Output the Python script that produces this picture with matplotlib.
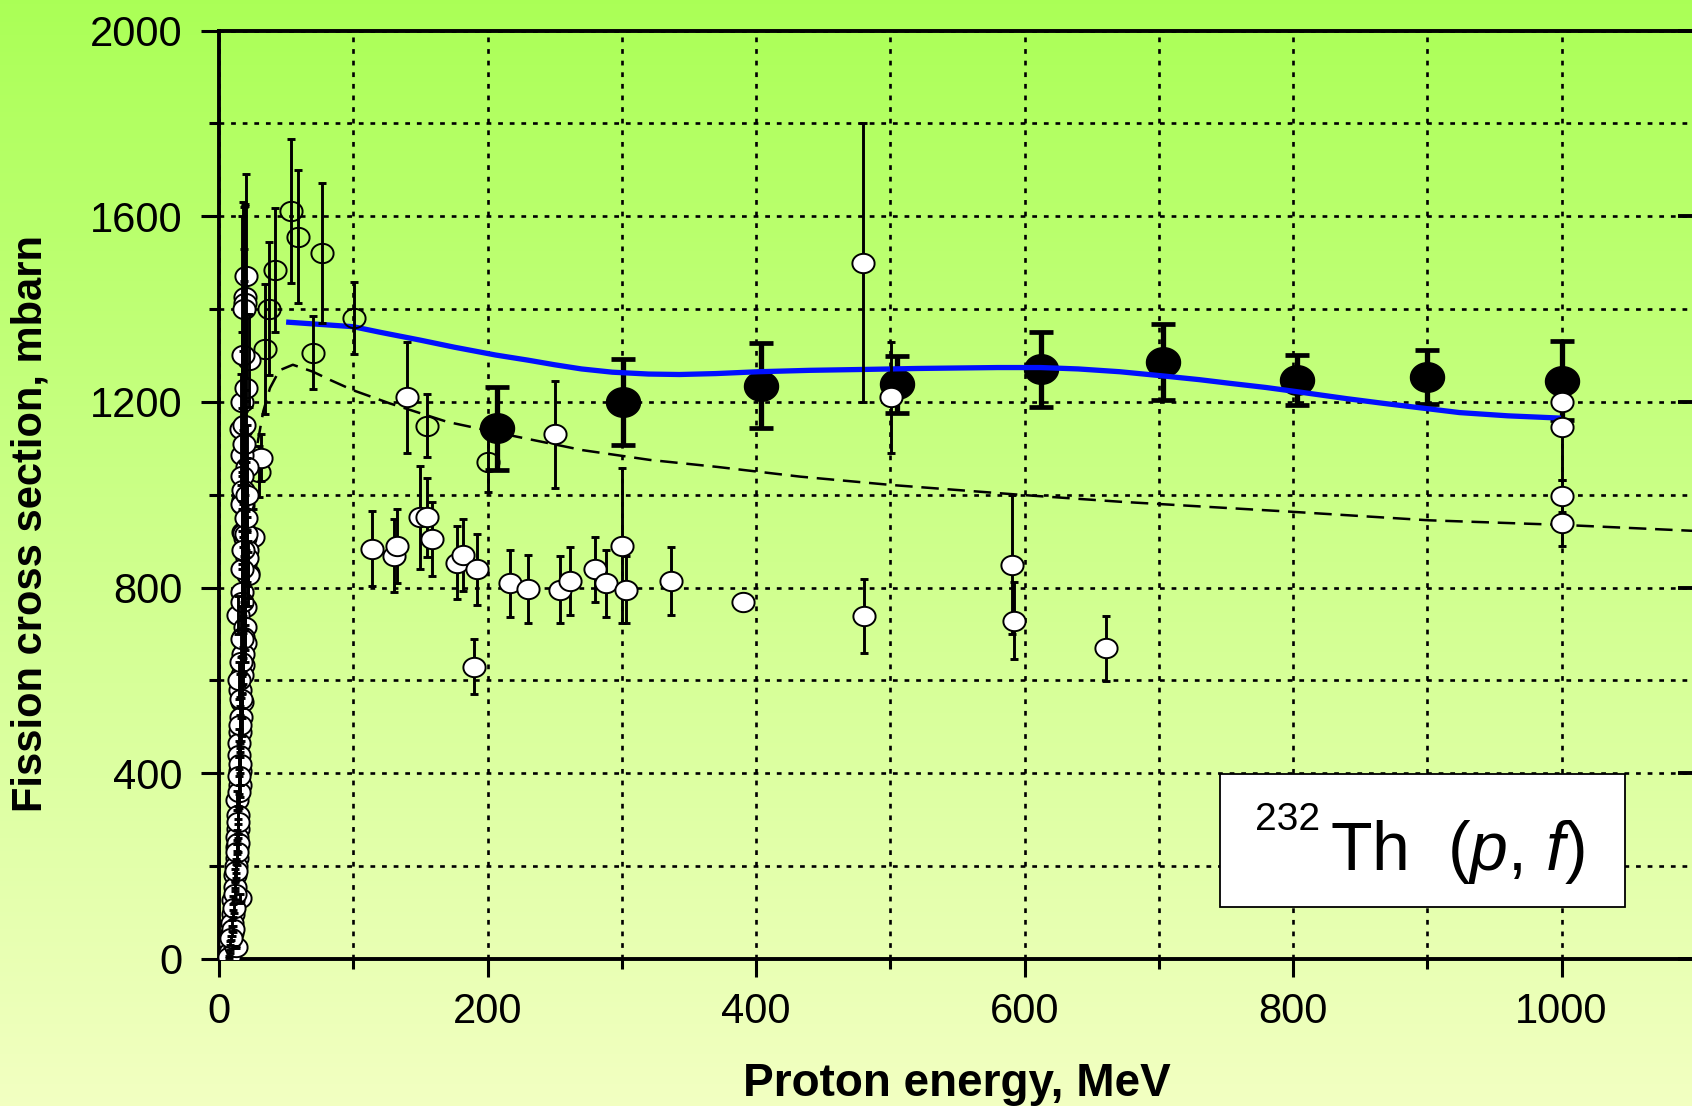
import numpy as np
import matplotlib
matplotlib.use("Agg")
import matplotlib.pyplot as plt
from matplotlib.path import Path
from matplotlib.ticker import MultipleLocator
from matplotlib.patches import Rectangle

# ---------------- data ----------------
# this work (filled black)
E_this = [207, 301, 404, 505, 612, 703, 803, 900, 1000]
s_this = [1143, 1200, 1235, 1238, 1270, 1286, 1247, 1253, 1246]
e_this = [90, 92, 92, 61, 80, 82, 54, 58, 85]

# other experiments, white-filled circles (E > 25 MeV)
E_white = [31.3, 140, 250, 480, 500.6, 114, 130, 132.4, 150, 155, 158.4, 177.5, 182, 192,
           190, 217, 230, 254, 261.5, 280, 288, 300.4, 303, 336.5, 390.5, 480.4, 591, 592,
           661, 1000.6, 1000.6, 1000.6, 1000.6, 25.6]
s_white = [1080, 1210, 1130, 1500, 1210, 884, 869, 890, 951, 951, 904, 854, 870, 839,
           630, 809, 797, 795, 814, 839, 809, 890, 795, 814, 770, 739, 849, 729,
           669, 1200, 1146, 997, 940, 910]
e_white = [50, 120, 115, 300, 120, 80, 78, 80, 110, 85, 80, 78, 78, 76,
           60, 73, 73, 72, 74, 71, 73, 167, 72, 74, 10, 80, 150, 82,
           70, 10, 115, 35, 50, 60]

# low-energy cluster (white-filled circles)
E_low = [20, 19, 19, 22, 17, 16.4, 16.9, 20.6, 18.1, 17.9, 19.4, 19.4, 20.6, 21.9,
         16.9, 18.1, 18.9, 20.4, 20.6, 21.9, 16.9, 19.4, 14.4, 19.4, 18.1, 19.4, 18.1,
         18.1, 16.9, 15.6, 16.9, 16.4, 15.6, 15.1, 15.1, 15.6, 13.2, 14.4, 14.4, 13.2,
         13.6, 13.2, 11.9, 11.9, 15.6, 10.7, 10.7, 9.5, 9.5, 8.2, 8.2, 11.9, 7.7, 12.9,
         16.0, 14.8, 17.5, 12.5,
         18.3, 18.0, 18.6, 17.8, 17.6, 17.2, 16.8, 16.2, 15.8, 15.4, 14.9, 14.2, 13.8,
         12.8, 12.2, 11.4, 10.2, 9.0, 17.4, 18.8, 16.6, 15.0, 13.4, 21.0, 19.8, 20.2]
s_low = [1471, 1426, 1412, 1290, 1200, 1141, 1086, 1060, 989, 978, 920, 906, 881, 831,
         981, 920, 918, 915, 863, 827, 791, 759, 741, 716, 694, 680, 658,
         633, 612, 579, 554, 522, 490, 465, 439, 375, 342, 310, 281, 263,
         242, 217, 181, 156, 131, 127, 98, 77, 55, 34, 16, 26, 5, 26,
         405, 600, 1040, 200,
         1400, 1300, 1150, 1010, 880, 770, 690, 560, 505, 420, 360, 295, 250,
         190, 140, 110, 65, 45, 840, 1110, 640, 395, 230, 1000, 1230, 950]
e_low = [220, 200, 210, 100, 150, 120, 100, 90, 80, 90, 80, 70, 70, 70,
         60, 60, 50, 50, 60, 50, 60, 50, 40, 50, 45, 40, 45,
         40, 40, 35, 35, 40, 35, 30, 30, 25, 20, 20, 20, 15,
         15, 15, 12, 10, 10, 8, 8, 6, 5, 4, 3, 3, 2, 3,
         30, 40, 560, 15,
         220, 330, 380, 300, 260, 200, 150, 90, 60, 45, 35, 25, 20,
         15, 12, 10, 6, 4, 230, 350, 120, 40, 18, 80, 160, 70]

# other experiments, open (unfilled) circles
E_open = [54, 59, 77, 42, 37.5, 34, 70, 100.5, 155, 200, 29.5]
s_open = [1611, 1556, 1521, 1484, 1401, 1315, 1306, 1381, 1149, 1071, 1050]
e_open = [155, 143, 150, 134, 143, 140, 78, 78, 68, 64, 55]

# calculation curves
E_solid = [50, 100, 120, 150, 175, 206, 230, 250, 270, 293, 320, 343, 370, 402, 440, 482,
           520, 549, 580, 612, 640, 671, 703, 730, 753, 780, 803, 840, 867, 924, 960, 1000]
s_solid = [1372, 1362, 1350, 1333, 1318, 1301, 1290, 1280, 1271, 1264, 1260, 1259, 1261,
           1265, 1268, 1270, 1272, 1273, 1274, 1274, 1271, 1265, 1256, 1248, 1240, 1231,
           1222, 1207, 1197, 1177, 1170, 1165]
E_dash = [22, 28, 33, 38, 45, 55, 70, 83, 100, 127, 170, 222, 271, 321, 371, 433, 501, 601,
          671, 801, 901, 1001, 1100]
s_dash = [1000, 1100, 1180, 1230, 1268, 1280, 1265, 1247, 1225, 1197, 1157, 1125, 1096, 1075,
          1060, 1039, 1021, 999, 985, 963, 945, 935, 922]

x_ticks = [0, 200, 400, 600, 800, 1000]
y_ticks = [0, 400, 800, 1200, 1600, 2000]

# ---------------- style ----------------
plt.rcParams['font.family'] = ['Liberation Sans', 'DejaVu Sans']
plt.rcParams['mathtext.fontset'] = 'custom'
plt.rcParams['mathtext.rm'] = 'Liberation Sans'
plt.rcParams['mathtext.it'] = 'Liberation Sans:italic'

W, H = 1692, 1106
fig = plt.figure(figsize=(W / 100, H / 100), dpi=100)

# gradient background
bg = fig.add_axes([0, 0, 1, 1], zorder=-10)
top = np.array([0.67, 1.0, 0.34])
bot = np.array([0.95, 1.0, 0.76])
g = np.linspace(0, 1, 256)[:, None, None]
img = top * (1 - g) + bot * g
bg.imshow(img, aspect='auto', extent=[0, 1, 0, 1], origin='upper')
bg.axis('off')

x_left, x_right = 219, 1695.75
y_top, y_bot = 30.5, 959
ax = fig.add_axes([x_left / W, (H - y_bot) / H, (x_right - x_left) / W, (y_bot - y_top) / H])
ax.set_facecolor('none')
ax.set_xlim(0, 1100)
ax.set_ylim(0, 2000)

# ellipse marker
t = np.linspace(0, 2 * np.pi, 73)
ell = Path(np.column_stack([np.cos(t), 0.87 * np.sin(t)]))

# grid
ax.xaxis.set_major_locator(MultipleLocator(200))
ax.xaxis.set_minor_locator(MultipleLocator(100))
ax.yaxis.set_major_locator(MultipleLocator(400))
ax.yaxis.set_minor_locator(MultipleLocator(200))
ax.set_xticks(x_ticks)
ax.set_yticks(y_ticks)
ax.grid(True, which='both', color='k', linestyle=(0, (1.8, 2.6)), linewidth=1.9)
ax.set_axisbelow(True)

# dashed calculation
ax.plot(E_dash, s_dash, color='k', lw=1.8, ls=(0, (7, 3.5)), zorder=2)

# black points
ax.errorbar(E_this, s_this, yerr=e_this, fmt='none', ecolor='k', elinewidth=3.8,
            capsize=8.6, capthick=3.4, zorder=3)
ax.plot(E_this, s_this, ls='none', marker=ell, ms=24.5, mfc='k', mec='k', zorder=3)

# solid blue calculation
ax.plot(E_solid, s_solid, color='#0010ff', lw=3.8, zorder=4, solid_capstyle='butt')

# open (unfilled) circles
ax.errorbar(E_open, s_open, yerr=e_open, fmt='none', ecolor='k', elinewidth=2.1,
            capsize=3.2, capthick=2.1, zorder=5)
ax.plot(E_open, s_open, ls='none', marker=ell, ms=16, mfc='none', mec='k', mew=1.4, zorder=5)

# white circles (other data)
ax.errorbar(E_white, s_white, yerr=e_white, fmt='none', ecolor='k', elinewidth=2.1,
            capsize=3.2, capthick=2.1, zorder=6)
ax.plot(E_white, s_white, ls='none', marker=ell, ms=16, mfc='white', mec='k', mew=1.4, zorder=6)

# low-energy cluster: bars drawn over the circles
ax.plot(E_low, s_low, ls='none', marker=ell, ms=16, mfc='white', mec='k', mew=1.4, zorder=6)
ax.errorbar(E_low, s_low, yerr=e_low, fmt='none', ecolor='k', elinewidth=2.1,
            capsize=3.2, capthick=2.1, zorder=7)

# spines and ticks
for side in ('left', 'top', 'bottom'):
    ax.spines[side].set_linewidth(2.8)
ax.spines['right'].set_visible(False)
ax.tick_params(which='major', direction='out', length=13, width=2.2, labelsize=30)
ax.tick_params(which='minor', direction='out', length=7, width=2.2)
ax.tick_params(axis='y', which='major', pad=13)
ax.tick_params(axis='x', which='major', pad=11)

# inward ticks on the right edge
ax2 = ax.twinx()
ax2.set_ylim(0, 2000)
ax2.set_yticks(y_ticks)
ax2.tick_params(axis='y', direction='in', length=13, width=2.8, labelright=False)
for sp in ax2.spines.values():
    sp.set_visible(False)

# axis labels
fig.text(31 / W, 1 - 523 / H, 'Fission cross section, mbarn', rotation=90,
         ha='center', va='center', fontsize=30, fontweight='bold')
fig.text(957 / W, 1 - 1084 / H, 'Proton energy, MeV', ha='center', va='center',
         fontsize=33, fontweight='bold')

# reaction label box
fig.patches.append(Rectangle((1220 / W, 1 - 907 / H), (1625 - 1220) / W, (907 - 774) / H,
                             transform=fig.transFigure, facecolor='white', edgecolor='k',
                             lw=1.3, zorder=10))
fig.text(1320 / W, 1 - 830 / H, '232', fontsize=28, ha='right', va='baseline', zorder=11)
fig.text(1330 / W, 1 - 870 / H, r'Th  ($p$, $f$)', fontsize=49, ha='left', va='baseline',
         zorder=11)

fig.savefig('out.png', dpi=100)
